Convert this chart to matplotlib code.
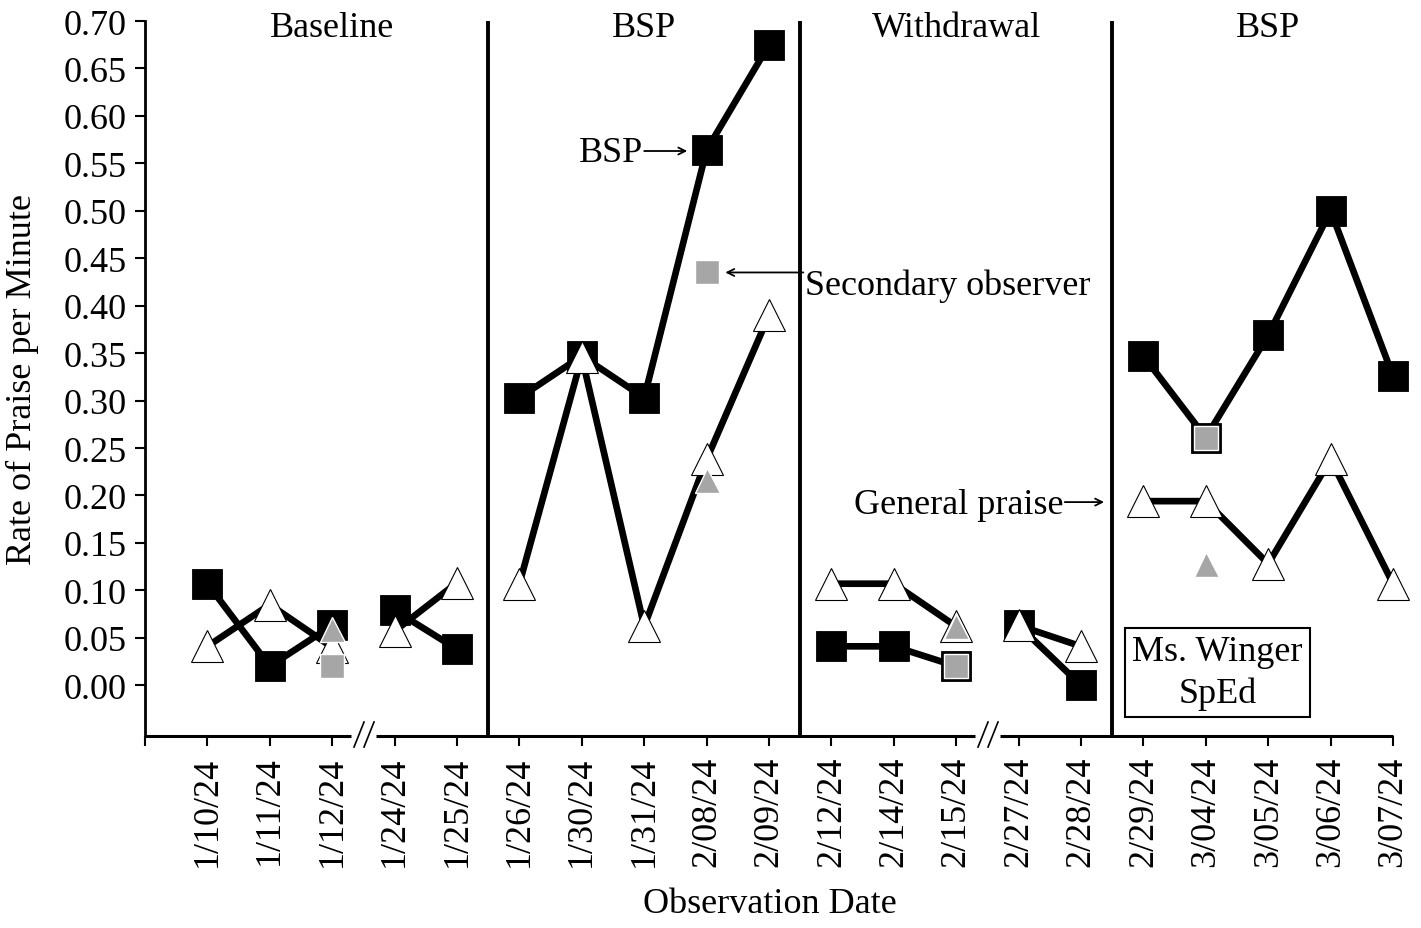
import matplotlib
matplotlib.use("Agg")
import matplotlib.pyplot as plt
import matplotlib.transforms as mtransforms
import numpy as np

plt.rcParams['font.family'] = ['Liberation Serif', 'DejaVu Serif']

# data
dates = ['1/10/24', '1/11/24', '1/12/24', '1/24/24', '1/25/24',
         '1/26/24', '1/30/24', '1/31/24', '2/08/24', '2/09/24',
         '2/12/24', '2/14/24', '2/15/24', '2/27/24', '2/28/24',
         '2/29/24', '3/04/24', '3/05/24', '3/06/24', '3/07/24']
bsp = [0.107, 0.020, 0.063, 0.079, 0.038,
       0.303, 0.347, 0.303, 0.564, 0.675,
       0.041, 0.041, 0.020, 0.063, 0.000,
       0.347, 0.261, 0.369, 0.500, 0.326]
general = [0.041, 0.085, 0.040, 0.057, 0.108,
           0.107, 0.346, 0.062, 0.238, 0.390,
           0.107, 0.107, 0.062, 0.063, 0.041,
           0.194, 0.194, 0.128, 0.238, 0.107]
sec_dates = ['1/12/24', '2/08/24', '2/15/24', '3/04/24']
sec_bsp = [0.020, 0.435, 0.020, 0.261]
sec_general = [0.059, 0.216, 0.062, 0.128]

phases = ['Baseline', 'BSP', 'Withdrawal', 'BSP']
phase_ends = ['1/25/24', '2/09/24', '2/28/24']   # last date of each phase
breaks = ['1/12/24', '2/15/24']                 # axis break after these dates

GRAY = '#a6a6a6'
FS = 26

x = np.arange(len(dates))
xi = {d: i for i, d in enumerate(dates)}
cuts = sorted([xi[d] + 1 for d in phase_ends + breaks])
segs = list(zip([0] + cuts, cuts + [len(dates)]))

fig = plt.figure(figsize=(14.21, 9.29), dpi=100)
ax = fig.add_axes([0.10204, 0.20667, 0.87826, 0.76964])

bsp_a = np.array(bsp)
gen_a = np.array(general)
for a, b in segs:
    ax.plot(x[a:b], bsp_a[a:b], color='black', lw=4.8, zorder=2, clip_on=False,
            marker='s', ms=21, mfc='black', mec='black', mew=0.6)
for a, b in segs:
    ax.plot(x[a:b], gen_a[a:b], color='black', lw=4.8, zorder=3, clip_on=False,
            marker='^', ms=22.5, mfc='white', mec='black', mew=0.8)

sx = [xi[d] for d in sec_dates]
ax.plot(sx, sec_bsp, ls='none', marker='s', ms=17.5, mfc=GRAY, mec='white',
        mew=1.0, zorder=4, clip_on=False)
ax.plot(sx, sec_general, ls='none', marker='^', ms=18, mfc=GRAY, mec='white',
        mew=1.0, zorder=4, clip_on=False)

# phase change lines and labels
for d in phase_ends:
    ax.axvline(xi[d] + 0.5, color='black', lw=2.8, zorder=1)
starts = [0] + [xi[d] + 1 for d in phase_ends]
stops = [xi[d] for d in phase_ends] + [len(dates) - 1]
for name, s0, s1 in zip(phases, starts, stops):
    ax.text((s0 + s1) / 2, 0.684, name, ha='center', va='baseline', fontsize=FS)

ax.set_xlim(-1, len(dates) - 1)
ax.set_ylim(-0.0535, 0.70)
ax.set_yticks(np.arange(0, 0.701, 0.05))
ax.set_yticklabels([f'{v:.2f}' for v in np.arange(0, 0.701, 0.05)])
ax.set_xticks(np.arange(-1, len(dates)))
ax.set_xticklabels([''] + dates, rotation=90)
ax.tick_params(axis='both', labelsize=FS, width=1.5, length=7, direction='out')
ax.tick_params(axis='x', pad=7)
ax.tick_params(axis='y', pad=6)

for s in ['top', 'right', 'bottom']:
    ax.spines[s].set_visible(False)
ax.spines['left'].set_linewidth(2.0)

# broken x axis
trans = mtransforms.blended_transform_factory(ax.transData, ax.transAxes)
gap = 0.2
bx = [xi[d] + 0.5 for d in breaks]
edges = [-1] + [v for b in bx for v in (b - gap, b + gap)] + [len(dates) - 1]
for a, b in zip(edges[::2], edges[1::2]):
    ax.plot([a, b], [0, 0], color='black', lw=2.2, transform=trans,
            clip_on=False, solid_capstyle='butt')
for b in bx:
    for dx in (0.0, 0.16):
        ax.plot([b - 0.15 + dx, b + 0.01 + dx], [-0.0154, 0.0196], color='black',
                lw=1.2, transform=trans, clip_on=False)

# annotations
arrow = dict(arrowstyle='->,head_length=0.5,head_width=0.25', lw=1.3,
             color='black', shrinkA=0, shrinkB=0)
ax.text(6.98, 0.5527, 'BSP', ha='right', va='baseline', fontsize=FS)
ax.annotate('', xy=(7.69, 0.563), xytext=(7.0, 0.563), arrowprops=arrow)
ax.text(9.58, 0.412, 'Secondary observer', ha='left', va='baseline', fontsize=FS)
ax.annotate('', xy=(8.30, 0.435), xytext=(9.55, 0.435), arrowprops=arrow)
ax.text(13.72, 0.182, 'General praise', ha='right', va='baseline', fontsize=FS)
ax.annotate('', xy=(14.37, 0.193), xytext=(13.74, 0.193), arrowprops=arrow)

ax.text(16.19, 0.0134, 'Ms. Winger\nSpEd', ha='center', va='center',
        fontsize=FS, linespacing=1.3,
        bbox=dict(boxstyle='square,pad=0.2', fc='white', ec='black', lw=1.5))

fig.text(0.0155, 0.5915, 'Rate of Praise per Minute', rotation=90,
         ha='center', va='center', fontsize=FS)
fig.text(0.542, 0.026, 'Observation Date', ha='center', va='center', fontsize=FS)

fig.savefig('out.png', dpi=100)
